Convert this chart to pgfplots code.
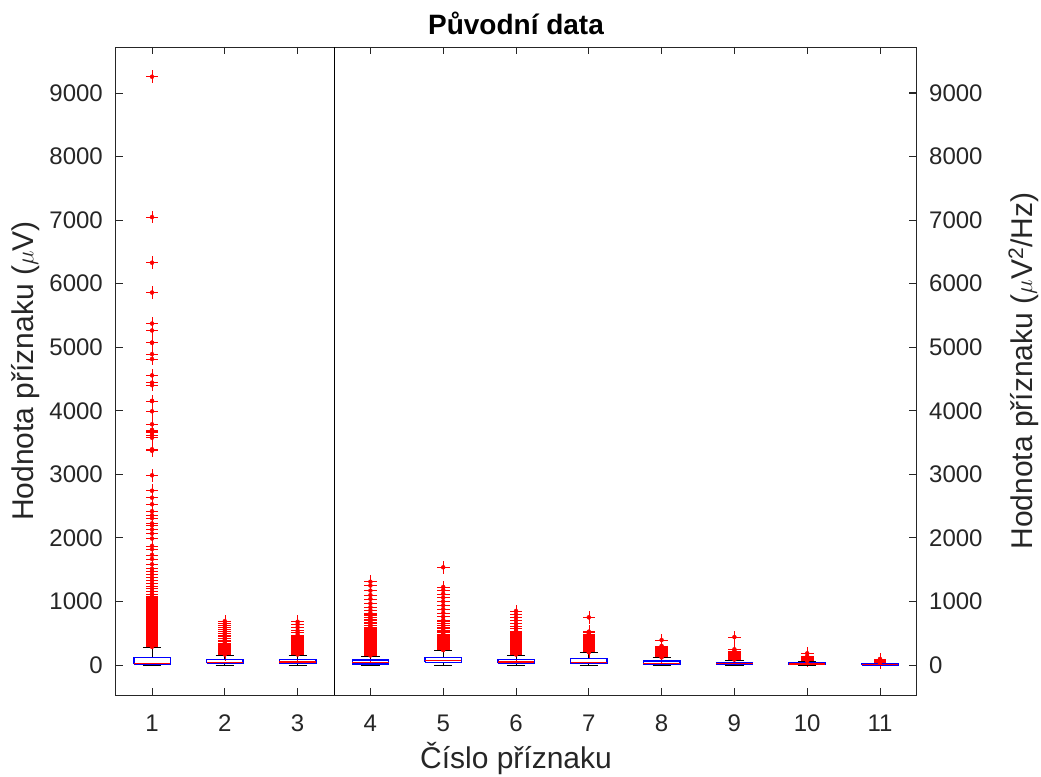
\documentclass[border=0pt]{standalone}
\usepackage{pgfplots}
\pgfplotsset{compat=1.18}
\usepackage{fontspec}
\setmainfont{Liberation Sans}
\definecolor{axgray}{RGB}{38,38,38}

\begin{document}
\begin{tikzpicture}
\useasboundingbox (0,0) rectangle (1041bp,777bp);
\pgfplotsset{
 common/.style={
  at={(115.6bp,82bp)}, anchor=south west, scale only axis,
  width=800.8bp, height=648bp,
  xmin=0.5, xmax=11.5, ymin=-472, ymax=9723,
  ytick={0,1000,...,9000},
  /pgf/number format/assume math mode=true,
  /pgf/number format/set thousands separator={},
  tick align=inside, major tick length=7bp,
  axis line style={axgray, line width=0.9bp},
  tick style={axgray, line width=0.9bp},
  tick label style={font=\fontsize{24bp}{28bp}\selectfont, text=axgray, inner sep=0pt},
 },
}
\begin{axis}[common,
  xtick={1,...,11},
  tick pos=both, xticklabel pos=bottom, yticklabel pos=left,
  xticklabel style={anchor=base, yshift=-36.7bp},
  yticklabel style={anchor=east, xshift=-12.6bp},
  title={Původní data},
  title style={at={(axis description cs:0.5,1)}, anchor=base, yshift=7bp,
    font=\bfseries\fontsize{28bp}{32bp}\selectfont, text=black},
  xlabel={Číslo příznaku},
  xlabel style={at={(axis description cs:0.5,-0.1131)}, anchor=base,
    font=\fontsize{30bp}{34bp}\selectfont, text=axgray},
  ylabel={Hodnota příznaku ($\mu$V)},
  ylabel style={at={(axis description cs:-0.1028,0.5)}, anchor=base,
    font=\fontsize{30bp}{34bp}\selectfont, text=axgray},
  unbounded coords=jump,
]
% separator line
\addplot[black, line width=1bp, forget plot] coordinates {(3.5,-472) (3.5,9723)};
% outliers, drawn as "+" (horizontal and vertical bars through each value)
\addplot[red, only marks, mark=none,
  error bars/.cd, x dir=both, x fixed=0.0866, y dir=both, y fixed=99,
  error mark=none, error bar style={red, line width=0.6bp}] coordinates {
(1,285) (1,295) (1,305) (1,315) (1,325) (1,335) (1,345) (1,355) (1,365) (1,375)
(1,385) (1,395) (1,405) (1,415) (1,425) (1,435) (1,445) (1,455) (1,465) (1,475)
(1,485) (1,495) (1,505) (1,515) (1,525) (1,535) (1,545) (1,555) (1,565) (1,575)
(1,585) (1,595) (1,605) (1,615) (1,625) (1,635) (1,645) (1,655) (1,665) (1,675)
(1,685) (1,695) (1,705) (1,715) (1,725) (1,735) (1,745) (1,755) (1,765) (1,775)
(1,785) (1,795) (1,805) (1,815) (1,825) (1,835) (1,845) (1,855) (1,865) (1,875)
(1,885) (1,895) (1,905) (1,915) (1,925) (1,935) (1,945) (1,955) (1,965) (1,975)
(1,985) (1,995) (1,1005) (1,1015) (1,1025) (1,1035) (1,1045) (1,1055) (1,1065) (1,1080)
(1,1117) (1,1155) (1,1200) (1,1245) (1,1284) (1,1329) (1,1374) (1,1425) (1,1476) (1,1515)
(1,1585) (1,1669) (1,1733) (1,1823) (1,1874) (1,1990) (1,2067) (1,2131) (1,2195) (1,2227)
(1,2311) (1,2356) (1,2420) (1,2529) (1,2632) (1,2741) (1,2985) (1,3370) (1,3380) (1,3395)
(1,3575) (1,3620) (1,3660) (1,3680) (1,3700) (1,3787) (1,3992) (1,4153) (1,4155) (1,4403)
(1,4442) (1,4557) (1,4814) (1,4891) (1,5070) (1,5072) (1,5263) (1,5372) (1,5860) (1,6329)
(1,7047) (1,9255)
(2,165) (2,175) (2,185) (2,195) (2,205) (2,215) (2,225) (2,235) (2,245) (2,255)
(2,265) (2,275) (2,285) (2,295) (2,305)
(2,320) (2,345) (2,370) (2,395) (2,420) (2,445) (2,470) (2,500) (2,530) (2,560)
(2,590) (2,620) (2,650) (2,690)
(3,165) (3,175) (3,185) (3,195) (3,205) (3,215) (3,225) (3,235) (3,245) (3,255)
(3,265) (3,275) (3,285) (3,295) (3,305) (3,315) (3,325) (3,335) (3,345) (3,355)
(3,365) (3,375) (3,385) (3,395) (3,405) (3,415) (3,425) (3,435) (3,445) (3,455)
(3,470) (3,508) (3,540) (3,593) (3,640) (3,680)
(4,150) (4,160) (4,170) (4,180) (4,190) (4,200) (4,210) (4,220) (4,230) (4,240)
(4,250) (4,260) (4,270) (4,280) (4,290) (4,300) (4,310) (4,320) (4,330) (4,340)
(4,350) (4,360) (4,370) (4,380) (4,390) (4,400) (4,410) (4,420) (4,430) (4,440)
(4,450) (4,460) (4,470) (4,480) (4,490) (4,500) (4,510) (4,520) (4,530) (4,540)
(4,550) (4,560) (4,570) (4,580)
(4,600) (4,625) (4,650) (4,675) (4,700) (4,725) (4,750) (4,775) (4,800) (4,815)
(4,860) (4,910) (4,970) (4,1040) (4,1100) (4,1170) (4,1250) (4,1310)
(5,235) (5,245) (5,255) (5,265) (5,275) (5,285) (5,295) (5,305) (5,315) (5,325)
(5,335) (5,345) (5,355) (5,365) (5,375) (5,385) (5,395) (5,405) (5,415) (5,425)
(5,435) (5,445)
(5,470) (5,490) (5,510) (5,530) (5,550) (5,575) (5,600) (5,625) (5,650) (5,680) (5,708)
(5,760) (5,820) (5,880) (5,940) (5,1000) (5,1060) (5,1120) (5,1180) (5,1227) (5,1537)
(6,165) (6,175) (6,185) (6,195) (6,205) (6,215) (6,225) (6,235) (6,245) (6,255)
(6,265) (6,275) (6,285) (6,295) (6,305) (6,315) (6,325) (6,335) (6,345) (6,355)
(6,365) (6,375) (6,385) (6,395) (6,405) (6,415) (6,425) (6,435) (6,445) (6,455)
(6,465) (6,475) (6,485) (6,495) (6,505) (6,515) (6,525) (6,535)
(6,570) (6,610) (6,650) (6,700) (6,750) (6,800) (6,850)
(7,200) (7,210) (7,220) (7,230) (7,240) (7,250) (7,260) (7,270) (7,280) (7,290)
(7,300) (7,310) (7,320) (7,330) (7,340) (7,350) (7,360) (7,370) (7,380) (7,390)
(7,400) (7,410) (7,420) (7,430) (7,440)
(7,455) (7,470) (7,490) (7,510) (7,524) (7,750)
(8,120) (8,130) (8,140) (8,150) (8,160) (8,170) (8,180) (8,190) (8,200) (8,210)
(8,220) (8,230) (8,240) (8,250) (8,262) (8,280) (8,300) (8,393)
(9,85) (9,95) (9,105) (9,115) (9,125) (9,135) (9,145) (9,155) (9,165) (9,175)
(9,185) (9,195) (9,205) (9,220) (9,247) (9,440)
(10,65) (10,75) (10,85) (10,95) (10,105) (10,115) (10,125) (10,135) (10,184)
(11,32) (11,40) (11,48) (11,56) (11,64) (11,72) (11,80) (11,88) (11,94)
};
% whiskers and caps (lower whisker, lower quartile, upper quartile, upper whisker)
\addplot[black, line width=0.9bp, forget plot] coordinates {
(1,121) (1,272) (1,nan) (0.875,272) (1.125,272) (1,nan) (1,0) (1,16) (1,nan) (0.875,0) (1.125,0) (1,nan)
(2,90) (2,157) (2,nan) (1.875,157) (2.125,157) (2,nan) (2,0) (2,25) (2,nan) (1.875,0) (2.125,0) (2,nan)
(3,90) (3,157) (3,nan) (2.875,157) (3.125,157) (3,nan) (3,0) (3,25) (3,nan) (2.875,0) (3.125,0) (3,nan)
(4,79) (4,142) (4,nan) (3.875,142) (4.125,142) (4,nan) (4,0) (4,16) (4,nan) (3.875,0) (4.125,0) (4,nan)
(5,121) (5,225) (5,nan) (4.875,225) (5.125,225) (5,nan) (5,0) (5,42) (5,nan) (4.875,0) (5.125,0) (5,nan)
(6,90) (6,157) (6,nan) (5.875,157) (6.125,157) (6,nan) (6,0) (6,27) (6,nan) (5.875,0) (6.125,0) (6,nan)
(7,100) (7,194) (7,nan) (6.875,194) (7.125,194) (7,nan) (7,0) (7,20) (7,nan) (6.875,0) (7.125,0) (7,nan)
(8,63) (8,115) (8,nan) (7.875,115) (8.125,115) (8,nan) (8,0) (8,5) (8,nan) (7.875,0) (8.125,0) (8,nan)
(9,42) (9,79) (9,nan) (8.875,79) (9.125,79) (9,nan) (9,0) (9,5) (9,nan) (8.875,0) (9.125,0) (9,nan)
(10,31) (10,58) (10,nan) (9.875,58) (10.125,58) (10,nan) (10,0) (10,5) (10,nan) (9.875,0) (10.125,0) (10,nan)
(11,15) (11,26) (11,nan) (10.875,26) (11.125,26) (11,nan) (11,0) (11,3) (11,nan) (10.875,0) (11.125,0) (11,nan)
};
% boxes (lower quartile to upper quartile)
\addplot[blue, line width=1.4bp, line join=miter, forget plot] coordinates {
(0.75,16) (1.25,16) (1.25,121) (0.75,121) (0.75,16) (1,nan)
(1.75,25) (2.25,25) (2.25,90) (1.75,90) (1.75,25) (2,nan)
(2.75,25) (3.25,25) (3.25,90) (2.75,90) (2.75,25) (3,nan)
(3.75,16) (4.25,16) (4.25,79) (3.75,79) (3.75,16) (4,nan)
(4.75,42) (5.25,42) (5.25,121) (4.75,121) (4.75,42) (5,nan)
(5.75,27) (6.25,27) (6.25,90) (5.75,90) (5.75,27) (6,nan)
(6.75,20) (7.25,20) (7.25,100) (6.75,100) (6.75,20) (7,nan)
(7.75,5) (8.25,5) (8.25,63) (7.75,63) (7.75,5) (8,nan)
(8.75,5) (9.25,5) (9.25,42) (8.75,42) (8.75,5) (9,nan)
(9.75,5) (10.25,5) (10.25,31) (9.75,31) (9.75,5) (10,nan)
(10.75,3) (11.25,3) (11.25,15) (10.75,15) (10.75,3)
};
% medians
\addplot[red, line width=1.4bp, forget plot] coordinates {
(0.75,28) (1.25,28) (1,nan) (1.75,42) (2.25,42) (2,nan) (2.75,45) (3.25,45) (3,nan)
(3.75,40) (4.25,40) (4,nan) (4.75,75) (5.25,75) (5,nan) (5.75,48) (6.25,48) (6,nan)
(6.75,37) (7.25,37) (7,nan) (7.75,26) (8.25,26) (8,nan) (8.75,20) (9.25,20) (9,nan)
(9.75,15) (10.25,15) (10,nan) (10.75,8) (11.25,8)
};
\end{axis}
\begin{axis}[common,
  hide x axis, axis y line*=right,
  yticklabel style={anchor=west, xshift=12.6bp},
  ylabel={Hodnota příznaku ($\mu$V\textsuperscript{2}/Hz)},
  ylabel style={at={(axis description cs:1.1444,0.5)}, anchor=base,
    font=\fontsize{30bp}{34bp}\selectfont, text=axgray},
]
\addplot[draw=none, forget plot] coordinates {(1,0) (2,100)};
\end{axis}
\end{tikzpicture}
\end{document}
